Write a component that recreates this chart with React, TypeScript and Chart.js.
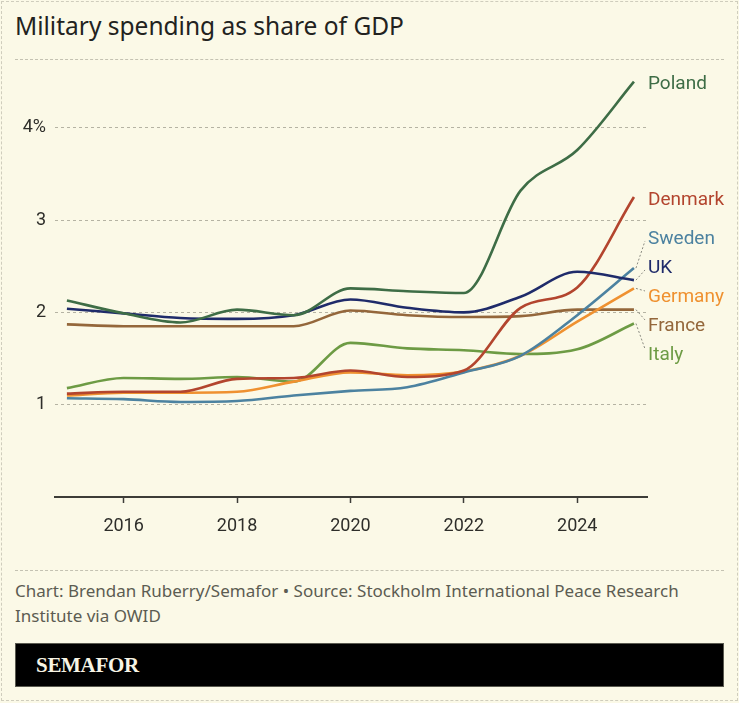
import React, { useEffect, useRef } from "react";
import { Chart, registerables } from "chart.js";

Chart.register(...registerables);

// Military spending, % of GDP
const years = [2015, 2016, 2017, 2018, 2019, 2020, 2021, 2022, 2023, 2024, 2025];
const poland = [2.13, 1.99, 1.89, 2.03, 1.97, 2.26, 2.23, 2.21, 3.32, 3.76, 4.5];
const uk = [2.04, 1.99, 1.94, 1.93, 1.97, 2.14, 2.05, 2.0, 2.17, 2.44, 2.35];
const denmark = [1.12, 1.14, 1.14, 1.28, 1.29, 1.37, 1.3, 1.37, 2.05, 2.27, 3.25];
const sweden = [1.07, 1.06, 1.03, 1.04, 1.1, 1.15, 1.19, 1.35, 1.53, 1.97, 2.48];
const germany = [1.1, 1.13, 1.13, 1.14, 1.25, 1.35, 1.32, 1.36, 1.53, 1.9, 2.26];
const france = [1.87, 1.85, 1.85, 1.85, 1.85, 2.02, 1.97, 1.95, 1.96, 2.03, 2.03];
const italy = [1.18, 1.29, 1.28, 1.3, 1.25, 1.67, 1.61, 1.59, 1.55, 1.6, 1.88];

const countryNames = ["Poland", "UK", "Denmark", "Sweden", "Germany", "France", "Italy"];
const countryValues = [poland, uk, denmark, sweden, germany, france, italy];
const countryColors = ["#3e6d46", "#1f2b6a", "#b3452e", "#4c82a0", "#ef9130", "#94673b", "#6d9b44"];

const xTicks = [2016, 2018, 2020, 2022, 2024];
const yTicks = [1, 2, 3, 4];

const FONT = "Roboto, 'Noto Sans', sans-serif";
const TEXT_FONT = "'Noto Sans', 'Open Sans', sans-serif";

// Country names at the right end of each line, nudged apart where they collide
const endLabels = {
  id: "endLabels",
  afterDatasetsDraw(chart: any) {
    const { ctx, chartArea } = chart;
    const gap = 29;
    const items = chart.data.datasets.map((ds: any, i: number) => {
      const pts = chart.getDatasetMeta(i).data;
      const last = pts[pts.length - 1];
      return { text: ds.label, color: ds.borderColor, x: last.x, y: last.y, ly: last.y + 1 };
    });
    const sorted = [...items].sort((a: any, b: any) => a.y - b.y);
    for (let pass = 0; pass < 200; pass++) {
      let moved = false;
      for (let i = 1; i < sorted.length; i++) {
        const d = sorted[i].ly - sorted[i - 1].ly;
        if (d < gap) {
          const shift = (gap - d) / 2;
          sorted[i].ly += shift;
          sorted[i - 1].ly -= shift;
          moved = true;
        }
      }
      if (!moved) break;
    }
    const labelX = chartArea.right + 1;
    ctx.save();
    items.forEach((it: any) => {
      if (Math.abs(it.ly - it.y) > 4) {
        ctx.beginPath();
        ctx.setLineDash([2, 2]);
        ctx.strokeStyle = "#8a8a80";
        ctx.lineWidth = 1;
        ctx.moveTo(it.x + 2, it.y);
        ctx.lineTo(labelX - 3, it.ly + (it.ly > it.y ? -4 : 4));
        ctx.stroke();
      }
    });
    ctx.setLineDash([]);
    ctx.font = `19px ${FONT}`;
    ctx.textBaseline = "middle";
    ctx.textAlign = "left";
    items.forEach((it: any) => {
      ctx.fillStyle = it.color;
      ctx.fillText(it.text, labelX, it.ly + 2);
    });
    ctx.restore();
  },
};

function SpendingChart() {
  const ref = useRef<HTMLCanvasElement | null>(null);
  useEffect(() => {
    if (!ref.current) return;
    const chart = new Chart(ref.current, {
      type: "line",
      data: {
        datasets: countryNames.map((name, i) => ({
          label: name,
          data: years.map((yr, j) => ({ x: yr, y: countryValues[i][j] })),
          borderColor: countryColors[i],
          backgroundColor: countryColors[i],
          borderWidth: 2.6,
          pointRadius: 0,
          cubicInterpolationMode: "monotone" as const,
          fill: false,
        })),
      },
      plugins: [endLabels],
      options: {
        animation: false,
        responsive: false,
        devicePixelRatio: 1,
        layout: { padding: { left: 0, right: 92, top: 0, bottom: 0 }, autoPadding: false },
        plugins: { legend: { display: false }, tooltip: { enabled: false } },
        scales: {
          x: {
            type: "linear",
            min: 2014.79,
            max: 2025.23,
            afterBuildTicks: (s: any) => {
              s.ticks = xTicks.map((v) => ({ value: v }));
            },
            afterFit: (s: any) => {
              s.height = 63;
              s.paddingLeft = 0;
              s.paddingRight = 0;
            },
            grid: {
              drawOnChartArea: false,
              drawTicks: true,
              tickLength: 6,
              tickColor: "#3d3d38",
              tickWidth: 1.5,
            },
            border: { display: true, color: "#3d3d38", width: 2 },
            ticks: {
              color: "#2e2e2a",
              font: { size: 18, family: FONT },
              padding: 13,
              maxRotation: 0,
              callback: (v: any) => String(v),
            },
          },
          y: {
            type: "linear",
            min: 0,
            max: 4.735,
            afterBuildTicks: (s: any) => {
              s.ticks = yTicks.map((v) => ({ value: v }));
            },
            afterFit: (s: any) => {
              s.width = 55;
              s.paddingTop = 0;
              s.paddingBottom = 0;
            },
            grid: { color: "#b5b3a3", lineWidth: 1, drawTicks: false },
            border: { display: false, dash: [3, 3] },
            ticks: {
              color: "#2e2e2a",
              font: { size: 18, family: FONT },
              padding: 9,
              callback: (v: any) => (v === 4 ? "4%" : String(v)),
            },
          },
        },
      },
    });
    return () => chart.destroy();
  }, []);
  return (
    <canvas
      ref={ref}
      width={739}
      height={500}
      style={{ position: "absolute", left: 0, top: 60, width: 739, height: 500 }}
    />
  );
}

export default function App() {
  return (
    <div
      style={{
        position: "fixed",
        left: 0,
        top: 0,
        width: 739,
        height: 703,
        background: "#fbf9e7",
        fontFamily: TEXT_FONT,
        overflow: "hidden",
      }}
    >
      <div
        style={{
          position: "absolute",
          left: 1,
          top: 1,
          right: 1,
          bottom: 2,
          border: "1px dashed #cfcdbd",
        }}
      />
      <div
        style={{
          position: "absolute",
          left: 15,
          top: 11,
          fontSize: 24.5,
          lineHeight: "30px",
          color: "#222220",
          whiteSpace: "nowrap",
        }}
      >
        Military spending as share of GDP
      </div>
      <div
        style={{ position: "absolute", left: 15, width: 709, top: 59, borderTop: "1px dashed #c4c2b2" }}
      />
      <SpendingChart />
      <div
        style={{ position: "absolute", left: 15, width: 709, top: 570, borderTop: "1px dashed #c4c2b2" }}
      />
      <div
        style={{
          position: "absolute",
          left: 15,
          top: 578,
          width: 709,
          fontSize: 17,
          lineHeight: "25px",
          color: "#5c5c52",
        }}
      >
        Chart: Brendan Ruberry/Semafor • Source: Stockholm International Peace Research Institute via OWID
      </div>
      <div
        style={{
          position: "absolute",
          left: 15,
          top: 643,
          width: 709,
          height: 44,
          background: "#000",
          boxSizing: "border-box",
          border: "1px solid #5a5a50",
        }}
      >
        <div
          style={{
            position: "absolute",
            left: 20,
            top: 0,
            lineHeight: "42px",
            fontFamily: "'Liberation Serif', 'DejaVu Serif', serif",
            fontWeight: 700,
            fontSize: 21,
            color: "#f7f4e4",
            letterSpacing: -0.3,
          }}
        >
          SEMAFOR
        </div>
      </div>
    </div>
  );
}
